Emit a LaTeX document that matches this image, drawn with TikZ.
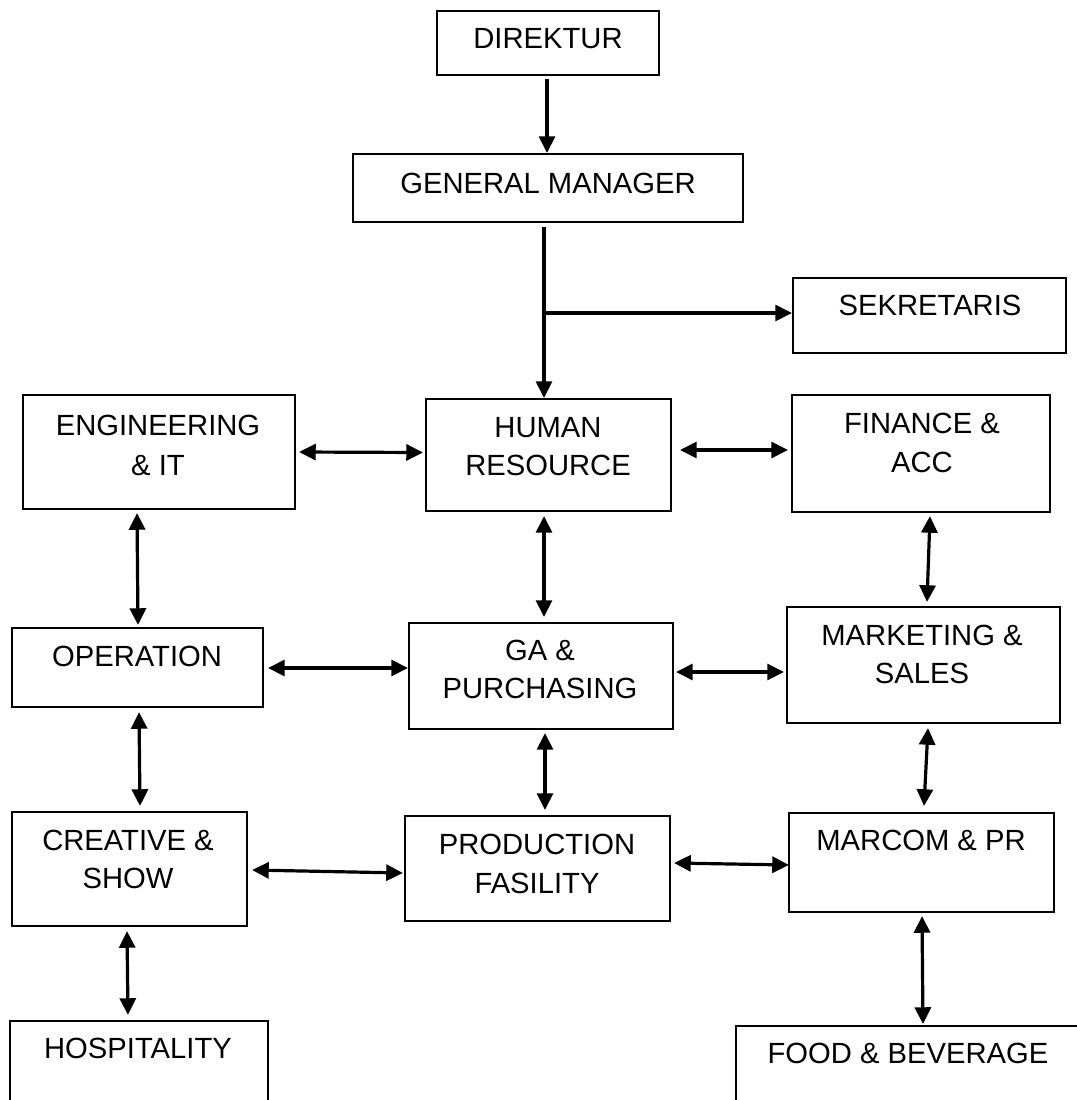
\documentclass[tikz,border=0pt]{standalone}
\usepackage{fontspec}
\setmainfont{Liberation Sans}
\usetikzlibrary{arrows.meta,fit}
\begin{document}
\begin{tikzpicture}[x=0.75pt,y=-0.75pt,
  box/.style={draw=black, line width=1.6pt, inner sep=0pt, rectangle},
  lbl/.style={anchor=base, inner sep=0pt, font=\fontsize{21.9pt}{26pt}\selectfont},
  tip/.style={},
  arr/.style={line width=2.4pt, -{Triangle[length=12.5pt,width=12pt]}},
  dbl/.style={line width=2.4pt, {Triangle[length=12.5pt,width=12pt]}-{Triangle[length=12.5pt,width=12pt]}}]
\useasboundingbox (0,0) rectangle (1077,1100);
\clip (0,0) rectangle (1077,1100);
% boxes
\node[box, fit={(437,11) (659,75)}] (dir) {};
\node[box, fit={(353,154) (743,222)}] (gm) {};
\node[box, fit={(793,278) (1066,353)}] (sek) {};
\node[box, fit={(23,395) (295,509)}] (eng) {};
\node[box, fit={(426,399) (671,511)}] (hr) {};
\node[box, fit={(792,395) (1050,512)}] (fin) {};
\node[box, fit={(12,628) (263,707)}] (op) {};
\node[box, fit={(409,623) (673,729)}] (ga) {};
\node[box, fit={(787,607) (1060,723)}] (mkt) {};
\node[box, fit={(12,812) (247,926)}] (cre) {};
\node[box, fit={(405,816) (670,921)}] (prod) {};
\node[box, fit={(789,813) (1054,912)}] (mar) {};
\node[box, fit={(10,1021) (268,1130)}] (hosp) {};
\node[box, fit={(736,1026) (1110,1130)}] (food) {};
% labels
\node[lbl] (tdir) at (548,48.5) {DIREKTUR};
\node[lbl] (tgm) at (548,193.5) {GENERAL MANAGER};
\node[lbl] (tsek) at (930,315.5) {SEKRETARIS};
\node[lbl] (teng1) at (158,435.5) {ENGINEERING};
\node[lbl] (teng2) at (158,475.5) {\& IT};
\node[lbl] (thr1) at (548,437.5) {HUMAN};
\node[lbl] (thr2) at (548,475.5) {RESOURCE};
\node[lbl] (tfin1) at (922,433.5) {FINANCE \&};
\node[lbl] (tfin2) at (922,472.5) {ACC};
\node[lbl] (top) at (137,666.5) {OPERATION};
\node[lbl] (tga1) at (540,660.5) {GA \&};
\node[lbl] (tga2) at (540,698.5) {PURCHASING};
\node[lbl] (tmkt1) at (922,645.5) {MARKETING \&};
\node[lbl] (tmkt2) at (922,683.5) {SALES};
\node[lbl] (tcre1) at (128,850.5) {CREATIVE \&};
\node[lbl] (tcre2) at (128,888.5) {SHOW};
\node[lbl] (tprod1) at (537,854.5) {PRODUCTION};
\node[lbl] (tprod2) at (537,893.5) {FASILITY};
\node[lbl] (tmar) at (921,850.5) {MARCOM \& PR};
\node[lbl] (thosp) at (138,1058.5) {HOSPITALITY};
\node[lbl] (tfood) at (908,1063.5) {FOOD \& BEVERAGE};
% connectors
\draw[arr] ([shift={(-1,3)}]dir.south) -- ([shift={(-1,0)}]gm.north);
\draw[arr] ([shift={(-4,4)}]gm.south) -- ([shift={(-4.5,0)}]hr.north);
\coordinate (br) at (544,313);
\draw[arr] (br) -- (sek.west |- br);
\draw[dbl] ([shift={(3,0)}]eng.east) -- ([shift={(-2,-2.5)}]hr.west);
\draw[dbl] ([shift={(8,-5)}]hr.east) -- ([shift={(-3,-3.5)}]fin.west);
\draw[dbl] ([shift={(-22,3)}]eng.south) -- ([shift={(0.5,-2)}]op.north);
\draw[dbl] ([shift={(-4.5,4)}]hr.south) -- ([shift={(3,-5)}]ga.north);
\draw[dbl] ([shift={(9,3)}]fin.south) -- ([shift={(3.5,-4)}]mkt.north);
\draw[dbl] ([shift={(4,0.5)}]op.east) -- ([shift={(0,-8)}]ga.west);
\draw[dbl] ([shift={(2,-4)}]ga.east) -- ([shift={(-2,7)}]mkt.west);
\draw[dbl] ([shift={(1.5,4)}]op.south) -- ([shift={(10.5,-5)}]cre.north);
\draw[dbl] ([shift={(4,3)}]ga.south) -- ([shift={(7.5,-5)}]prod.north);
\draw[dbl] ([shift={(4.5,4)}]mkt.south) -- ([shift={(2.5,-6)}]mar.north);
\draw[dbl] ([shift={(4,1)}]cre.east) -- ([shift={(-1,4.5)}]prod.west);
\draw[dbl] ([shift={(3,-5.5)}]prod.east) -- ([shift={(1,2.5)}]mar.west);
\draw[dbl] ([shift={(-2.5,4)}]cre.south) -- ([shift={(-11,-5)}]hosp.north);
\draw[dbl] ([shift={(0.5,3)}]mar.south) -- ([shift={(0,-1)}]food.north);
\end{tikzpicture}
\end{document}
